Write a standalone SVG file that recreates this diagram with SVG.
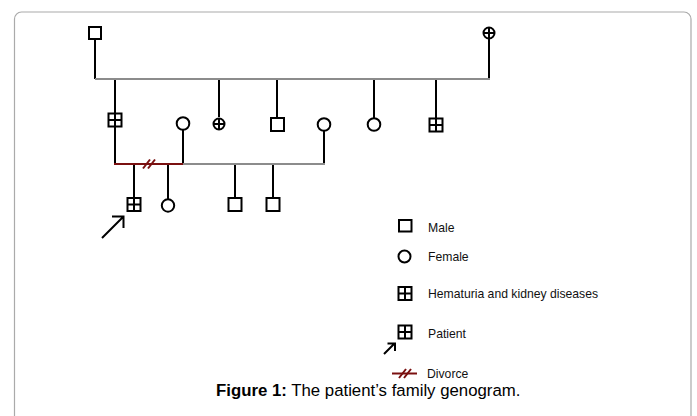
<svg xmlns="http://www.w3.org/2000/svg" width="697" height="416" viewBox="0 0 697 416">
<style>
.s{fill:#fff;stroke:#000;stroke-width:2}
.k{fill:none;stroke:#000;stroke-width:2}
.g{fill:none;stroke:#8c8c8c;stroke-width:2.2}
.r{fill:none;stroke:#7a1010;stroke-width:2}
.t{font-family:"Liberation Sans",Arial,sans-serif;font-size:12.2px;fill:#111}
.c{font-family:"Liberation Sans",Arial,sans-serif;font-size:16.8px;fill:#000}
</style>
<defs>
<g id="gsq"><rect x="-6.5" y="-6.5" width="13" height="13" class="s"/><path d="M0-6.5V6.5M-6.5 0H6.5" class="k"/></g>
<g id="xc"><circle r="5.5" class="s" stroke-width="2.4"/><path d="M0-5.5V5.5M-5.5 0H5.5" class="k"/></g>
</defs>
<path d="M14.5 420V19a7 7 0 0 1 7-7H684a7 7 0 0 1 7 7V420" fill="none" stroke="#aaa" stroke-width="1.2"/>
<g id="connectors">
<path d="M95 40V79M489 39V79M115 79V113M219 79V117M277 79V118M374 79V118M436 79V118" class="k"/>
<path d="M95 79H490" class="g"/>
<path d="M115 127V164M183 130V164M324 131V164M134 164V198M168 164V199M235 164V198M273 164V198" class="k"/>
<path d="M183 164H325" class="g"/>
<path d="M114 164H183" class="r"/>
<path d="M143 168.5L150 159.5M148 168.5L155 159.5" class="r"/>
<path d="M102 238L123 217M112 216.5H123.5V228" class="k"/>
</g>
<g id="grandfather"><rect x="89" y="27" width="12" height="12" class="s"/></g>
<g id="grandmother"><use href="#xc" x="489" y="33"/></g>
<g id="son1"><use href="#gsq" x="115" y="120"/></g>
<g id="wife1"><circle cx="183" cy="123.5" r="6.3" class="s"/></g>
<g id="daughter1"><use href="#xc" x="219" y="124"/></g>
<g id="son2"><rect x="271" y="118" width="13" height="13" class="s"/></g>
<g id="wife2"><circle cx="324" cy="124.5" r="6.3" class="s"/></g>
<g id="daughter2"><circle cx="374" cy="124.5" r="6.3" class="s"/></g>
<g id="son3"><use href="#gsq" x="436" y="125"/></g>
<g id="patient"><use href="#gsq" x="134" y="204.5"/></g>
<g id="halfsister"><circle cx="168" cy="205.5" r="6.2" class="s"/></g>
<g id="halfbrother1"><rect x="228.5" y="198" width="13" height="13" class="s"/></g>
<g id="halfbrother2"><rect x="266.5" y="198" width="13" height="13" class="s"/></g>
<g id="legend">
<rect x="399" y="220" width="12.5" height="11.5" class="s"/>
<text x="428" y="231.5" class="t">Male</text>
<circle cx="404.5" cy="256.5" r="6" class="s"/>
<text x="428" y="261" class="t">Female</text>
<use href="#gsq" x="405" y="293.5"/>
<text x="428" y="298" class="t">Hematuria and kidney diseases</text>
<use href="#gsq" x="405" y="332"/>
<text x="428" y="337.5" class="t">Patient</text>
<path d="M384 354L394.5 343.5M387.5 343.5H395V351" class="k"/>
<path d="M392 373.5H417" class="r"/>
<path d="M399 378L406 369M404 378L411 369" class="r"/>
<text x="427" y="378" class="t">Divorce</text>
</g>
<text x="216" y="396" class="c"><tspan font-weight="bold">Figure 1:</tspan> The patient’s family genogram.</text>
</svg>
